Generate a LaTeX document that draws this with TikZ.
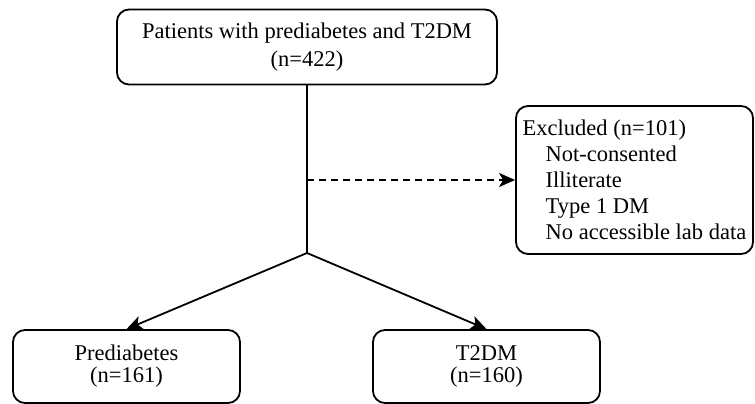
\documentclass[tikz,border=0pt]{standalone}
\usepackage{fontspec}
\setmainfont{Liberation Serif}
\usetikzlibrary{arrows.meta}
\begin{document}
\begin{tikzpicture}[x=1pt,y=-1pt,
  box/.style={draw,line width=1.8pt,rounded corners=12pt,align=center,inner sep=0pt,
    font=\fontsize{22.5}{28}\selectfont},
  conn/.style={line width=1.8pt,-{Stealth[length=16pt,width=14pt,inset=4pt]}},
  plain/.style={line width=1.8pt}]
\useasboundingbox (0,0) rectangle (755,404);
\node[box,minimum width=380pt,minimum height=75pt] (top) at (307,47)
  {Patients with prediabetes and T2DM\\(n=422)};
\node[box,minimum width=237pt,minimum height=148pt,align=left,
  font=\fontsize{22.5}{26}\selectfont] (excl) at (634.5,180)
  {Excluded (n=101)\\\hspace*{23pt}Not-consented\\\hspace*{23pt}Illiterate\\\hspace*{23pt}Type 1 DM\\\hspace*{23pt}No accessible lab data};
\node[box,minimum width=227pt,minimum height=73pt,font=\fontsize{22.5}{22}\selectfont] (pred) at (126.5,366.5)
  {Prediabetes\\(n=161)};
\node[box,minimum width=227pt,minimum height=73pt,font=\fontsize{22.5}{22}\selectfont] (t2dm) at (486.5,366.5)
  {T2DM\\(n=160)};
\coordinate (j) at (307,253);
\coordinate (d) at (top.south |- excl.west);
\draw[plain] (top.south) -- (j);
\draw[conn,dash pattern=on 7pt off 5pt] (d) -- (excl.west);
\draw[conn] (j) -- (pred.north);
\draw[conn] (j) -- (t2dm.north);
\end{tikzpicture}
\end{document}
